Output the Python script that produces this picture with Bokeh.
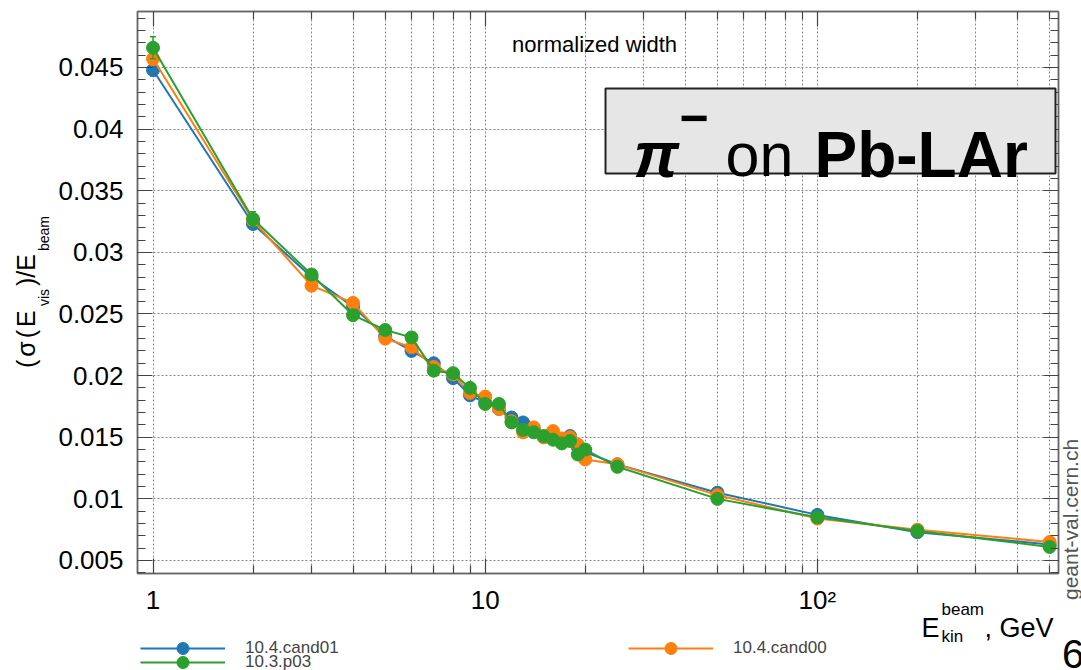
import math
from bokeh.plotting import figure
from bokeh.layouts import column
from bokeh.models import (Range1d, FixedTicker, LogAxis, LinearAxis, Label, BoxAnnotation,
                          Legend, LegendItem, ColumnDataSource, Div)
from bokeh.embed import file_html
from bokeh.resources import INLINE

# ---------------- data ----------------
energies = [1, 2, 3, 4, 5, 6, 7, 8, 9, 10, 11, 12, 13, 14, 15, 16, 17, 18, 19, 20, 25, 50, 100, 200, 500]

res_cand01 = [0.0448, 0.0323, 0.0280, 0.0256, 0.0232, 0.0220, 0.0210, 0.0198, 0.0184, 0.0178,
              0.0173, 0.0166, 0.0162, 0.0157, 0.0150, 0.0149, 0.0146, 0.0151, 0.0142, 0.0138,
              0.0128, 0.0105, 0.0087, 0.0073, 0.0063]
err_cand01 = [0.0005, 0.0003, 0.0002, 0.0002, 0.0002, 0.0002, 0.0002, 0.0002, 0.0002, 0.0002,
              0.0002, 0.0002, 0.0002, 0.0002, 0.0002, 0.0002, 0.0002, 0.0002, 0.0002, 0.0002,
              0.0001, 0.0001, 0.0001, 0.0001, 0.0001]

res_cand00 = [0.0457, 0.0326, 0.0273, 0.0259, 0.0230, 0.0223, 0.0207, 0.0201, 0.0186, 0.0183,
              0.0173, 0.0163, 0.0154, 0.0158, 0.0150, 0.0155, 0.0149, 0.0150, 0.0144, 0.0132,
              0.0128, 0.0103, 0.0084, 0.0075, 0.0065]
err_cand00 = [0.0005, 0.0003, 0.0002, 0.0002, 0.0002, 0.0002, 0.0002, 0.0002, 0.0002, 0.0002,
              0.0002, 0.0002, 0.0002, 0.0002, 0.0002, 0.0002, 0.0002, 0.0002, 0.0002, 0.0002,
              0.0001, 0.0001, 0.0001, 0.0001, 0.0001]

res_p03 = [0.0466, 0.0327, 0.0282, 0.0249, 0.0237, 0.0231, 0.0204, 0.0202, 0.0190, 0.0177,
           0.0177, 0.0162, 0.0156, 0.0154, 0.0151, 0.0148, 0.0145, 0.0147, 0.0136, 0.0140,
           0.0126, 0.0100, 0.0085, 0.0074, 0.0061]
err_p03 = [0.0009, 0.0006, 0.0002, 0.0002, 0.0002, 0.0002, 0.0002, 0.0002, 0.0002, 0.0002,
           0.0002, 0.0002, 0.0002, 0.0002, 0.0002, 0.0002, 0.0002, 0.0002, 0.0002, 0.0002,
           0.0001, 0.0001, 0.0001, 0.0001, 0.0001]

series_names = ["10.4.cand01", "10.4.cand00", "10.3.p03"]
series_colors = ["#1f77b4", "#ff7f0e", "#2ca02c"]

x_major = [1, 10, 100]
x_tick_labels = ["1", "10", "10\u00b2"]
x_minor = [2, 3, 4, 5, 6, 7, 8, 9, 20, 30, 40, 50, 60, 70, 80, 90, 200, 300, 400, 500]
y_major = [0.005, 0.01, 0.015, 0.02, 0.025, 0.03, 0.035, 0.04, 0.045]
y_tick_labels = ["0.005", "0.01", "0.015", "0.02", "0.025", "0.03", "0.035", "0.04", "0.045"]
y_minor = [round(0.001 * i, 3) for i in range(4, 50)]

# ---------------- layout ----------------
W, H = 1081, 670
FL, FR, FT, FB = 137, 1058, 11, 573
FONT = "Liberation Sans"

p = figure(width=W, height=H, x_axis_type="log",
           x_range=Range1d(0.898, 531.8), y_range=Range1d(0.003945, 0.04954),
           output_backend="svg", toolbar_location=None,
           min_border_left=FL, min_border_right=W - FR, min_border_top=FT, min_border_bottom=H - FB)
p.background_fill_color = "white"
p.border_fill_color = "white"
p.outline_line_color = "#777777"
p.outline_line_width = 1.5

xt = FixedTicker(ticks=x_major, minor_ticks=x_minor)
yt = FixedTicker(ticks=y_major, minor_ticks=y_minor)


def style_axis(ax, labels=True):
    ax.axis_line_color = "#666666"
    ax.axis_line_width = 1.5
    ax.major_tick_in = 15
    ax.major_tick_out = 0
    ax.minor_tick_in = 8
    ax.minor_tick_out = 0
    ax.major_tick_line_color = "#444444"
    ax.minor_tick_line_color = "#444444"
    ax.major_tick_line_width = 1.2
    ax.minor_tick_line_width = 1.2
    if labels:
        ax.major_label_text_font = FONT
        ax.major_label_text_font_size = "26px"
        ax.major_label_text_color = "black"
    else:
        ax.major_label_text_font_size = "1px"
        ax.major_label_standoff = 0


xa = p.xaxis[0]
xa.ticker = xt
xa.major_label_overrides = {v: s for v, s in zip(x_major, x_tick_labels)}
xa.major_label_standoff = 11
style_axis(xa)

ya = p.yaxis[0]
ya.ticker = yt
ya.major_label_overrides = {v: s for v, s in zip(y_major, y_tick_labels)}
ya.major_label_standoff = 14
style_axis(ya)

top = LogAxis(ticker=xt)
top.major_label_overrides = {v: "" for v in x_major}
style_axis(top, labels=False)
p.add_layout(top, "above")
right = LinearAxis(ticker=yt)
right.major_label_overrides = {v: "" for v in y_major}
style_axis(right, labels=False)
p.add_layout(right, "right")

p.xgrid.ticker = xt
p.ygrid.ticker = yt
for g in (p.xgrid, p.ygrid):
    g.grid_line_color = "#8a8a8a"
    g.grid_line_dash = "2 2"
    g.grid_line_width = 1
p.xgrid.minor_grid_line_color = "#8a8a8a"
p.xgrid.minor_grid_line_dash = "2 2"
p.xgrid.minor_grid_line_width = 1

# ---------------- data renderers ----------------
all_res = [res_cand01, res_cand00, res_p03]
all_err = [err_cand01, err_cand00, err_p03]
sources = []
for name, col, res, err in zip(series_names, series_colors, all_res, all_err):
    src = ColumnDataSource(dict(x=energies, y=res,
                                lo=[v - e for v, e in zip(res, err)],
                                hi=[v + e for v, e in zip(res, err)]))
    sources.append(src)
    p.segment("x", "lo", "x", "hi", source=src, line_color=col, line_width=1.5)
    p.scatter("x", "hi", source=src, marker="dash", size=6, line_color=col, line_width=1.5)
    p.scatter("x", "lo", source=src, marker="dash", size=6, line_color=col, line_width=1.5)
    p.line("x", "y", source=src, line_color=col, line_width=2)
    p.scatter("x", "y", source=src, size=13, fill_color=col, line_color=col, marker="circle")

# ---------------- transparent overlay for texts and legend below the frame ----------------
# (its frame gets aligned horizontally with the main frame: x runs FL..FR, y runs 0..H)
q = figure(width=W, height=H, x_range=Range1d(0, W), y_range=Range1d(0, H),
           x_axis_type=None, y_axis_type=None, output_backend="svg", toolbar_location=None,
           min_border_left=0, min_border_right=0, min_border_top=0, min_border_bottom=0)
q.background_fill_color = None
q.border_fill_color = None
q.outline_line_color = None
q.margin = (-H, 0, 0, 0)
q.extra_y_ranges = {"off": Range1d(10, 20)}   # keeps the legend proxies out of sight


def add_text(text, X, Y, size, style="normal", color="black", align="left"):
    q.add_layout(Label(x=X - FL, y=H - Y, x_units="screen", y_units="screen", text=text,
                       text_font=FONT, text_font_size=f"{size}px", text_font_style=style,
                       text_color=color, text_align=align, text_baseline="alphabetic"))


add_text("normalized width", 594, 44, 22, align="center")

# pi- on Pb-LAr box
q.add_layout(BoxAnnotation(left=605 - FL, right=1055 - FL, top=H - 88, bottom=H - 173,
                           left_units="screen", right_units="screen",
                           top_units="screen", bottom_units="screen",
                           fill_color="#e6e6e6", fill_alpha=1.0,
                           line_color="#222222", line_alpha=1.0, line_width=2))
add_text("\u03c0", 633, 154, 64, style="bold italic")
add_text("\u2212", 679, 117, 50, style="bold")
add_text("on", 725, 154, 61)
add_text("Pb-LAr", 814, 154, 64, style="bold")

# x-axis title
add_text("E", 921, 627, 27)
add_text("beam", 941, 609, 17)
add_text("kin", 941, 636, 17)
add_text(", GeV", 984, 627, 27)

# legend (one legend per entry for exact placement)
leg_pos = [(140, 648), (628, 648), (140, 662)]
GH = 30
for src, name, col, (lx, ly) in zip(sources, series_names, series_colors, leg_pos):
    lr = q.line("x", "y", source=src, line_color=col, line_width=2, y_range_name="off")
    sr = q.scatter("x", "y", source=src, size=13, fill_color=col, line_color=col,
                   marker="circle", y_range_name="off")
    lg = Legend(items=[LegendItem(label=name, renderers=[lr, sr])],
                location=(lx - FL, H - (ly + GH / 2)),
                glyph_width=85, glyph_height=GH, label_height=GH, label_standoff=20,
                label_text_font=FONT, label_text_font_size="17px",
                label_text_baseline="middle",
                background_fill_alpha=0, border_line_alpha=0, padding=0, margin=0, spacing=0)
    q.add_layout(lg)

# ---------------- texts left / right of the frame as positioned HTML text ----------------
ASC = 0.905
DESC = 0.212
divs = []


def add_div(text, X, Y, size, color="black", rotate=False, lh=None, clip_w=None, spacing=0):
    lh = size if lh is None else lh
    base = (lh - (ASC + DESC) * size) / 2 + ASC * size   # baseline offset inside the line box
    if rotate:
        left, top, tf = X - base, Y, "rotate(-90deg)"
    else:
        left, top, tf = X, Y - base, "none"
    st = {"position": "absolute", "left": f"{left:.1f}px", "top": f"{top:.1f}px",
          "font-family": FONT, "font-size": f"{size}px", "line-height": f"{lh}px",
          "color": color, "white-space": "nowrap", "transform": tf,
          "transform-origin": "0 0", "margin": "0", "padding": "0"}
    if clip_w is not None:
        st["width"] = f"{clip_w}px"
        st["overflow"] = "hidden"
    inner = (f'<div style="font-family:{FONT};font-size:{size}px;line-height:{lh}px;'
             f'letter-spacing:{spacing}px;color:{color};white-space:nowrap;margin:0;padding:0">'
             f'{text}</div>')
    divs.append(Div(text=inner, styles=st, margin=0))


# y-axis title
add_div("(\u03c3(E", 35, 368, 25, rotate=True, spacing=3)
add_div("vis", 49, 306, 14, rotate=True)
add_div(")/E", 35, 286, 25, rotate=True)
add_div("beam", 49, 251, 14, rotate=True)

# watermark and page number
add_div("geant-val.cern.ch", 1078, 600, 21, color="#555555", rotate=True)
add_div("6", 1062, 668, 40, lh=28, clip_w=19)

page = column(p, q, *divs, spacing=0)
page.styles = {"position": "relative", "overflow": "hidden"}
open("out.html", "w").write(file_html(page, INLINE))
